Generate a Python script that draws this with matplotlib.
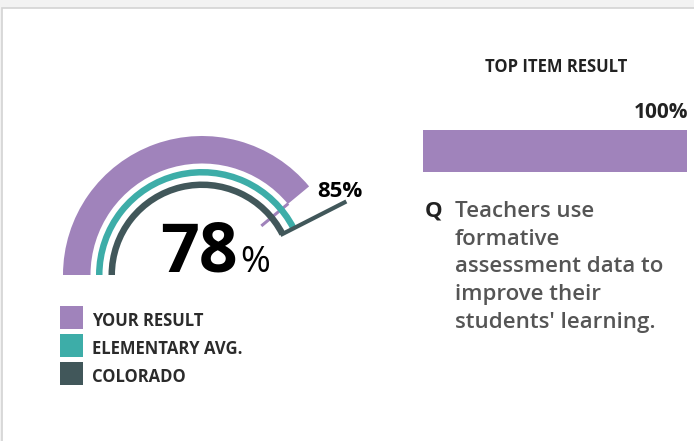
import numpy as np
import matplotlib.pyplot as plt
from matplotlib.patches import Wedge, Rectangle

W, H = 694, 441

# data
series = ["YOUR RESULT", "ELEMENTARY AVG.", "COLORADO"]
values = [78, 85, 85]
colors = ["#a083bb", "#3dada8", "#41575a"]
marker_label = "85%"
top_item_title = "TOP ITEM RESULT"
top_item_value = 100
question = ["Teachers use", "formative", "assessment data to",
            "improve their", "students' learning."]

plt.rcParams['font.family'] = ['Open Sans', 'DejaVu Sans']


def Y(y):
    # image rows -> axis coords (y up)
    return H - y


def ang(v):
    return 180 - 1.8 * v


fig = plt.figure(figsize=(W / 100, H / 100), dpi=100, facecolor="#f2f2f2")
ax = fig.add_axes([0, 0, 1, 1])
ax.set_xlim(0, W)
ax.set_ylim(0, H)
ax.axis("off")

# white panel with grey border
ax.add_patch(Rectangle((2.5, -5), W + 10, Y(7.5) + 5, facecolor="white",
                       edgecolor="#d3d3d3", lw=1.2))

# gauge
cx, cy = 202, Y(275)
rings = [(139, 27.5), (106, 6.5), (93.5, 6.5)]
ax.add_patch(Wedge((cx, cy), rings[0][0], ang(values[0]), 180,
                   width=rings[0][1], facecolor=colors[0], edgecolor="none"))

# thin purple tick at your result
t = np.radians(ang(values[0]))
ax.plot([cx + 77 * np.cos(t), cx + 112 * np.cos(t)],
        [cy + 77 * np.sin(t), cy + 112 * np.sin(t)],
        color=colors[0], lw=2.2, solid_capstyle="butt", zorder=1)
for (r, w), v, c in list(zip(rings, values, colors))[1:]:
    ax.add_patch(Wedge((cx, cy), r, ang(v), 180, width=w, facecolor=c,
                       edgecolor="none", zorder=2))

# colorado marker line
t = np.radians(ang(values[2]))
ax.plot([cx + 88 * np.cos(t), cx + 162 * np.cos(t)],
        [cy + 88 * np.sin(t), cy + 162 * np.sin(t)],
        color=colors[2], lw=3, solid_capstyle="butt", zorder=3)
ax.text(317, Y(197), marker_label, fontsize=16, fontweight="bold",
        color="black", ha="left", va="baseline")

# center value
ax.text(238, Y(272), str(values[0]), fontsize=49, fontweight="bold",
        color="black", ha="right", va="baseline", zorder=4)
ax.text(240, Y(272), "%", fontsize=26, color="black", ha="left",
        va="baseline", zorder=4)

# legend
for i, (name, c) in enumerate(zip(series, colors)):
    top = 306 + 28 * i
    ax.add_patch(Rectangle((60, Y(top + 23)), 23, 23, facecolor=c,
                           edgecolor="none"))
    ax.text(92, Y(326 + 28 * i), name, fontsize=12, fontweight="bold",
            color="#2b2b2b", ha="left", va="baseline")

# top item bar
ax.text(556, Y(72), top_item_title, fontsize=12, fontweight="bold",
        color="#222222", ha="center", va="baseline")
ax.barh(Y(151), 264 * top_item_value / 100, height=42, left=423,
        color=colors[0])
ax.text(688, Y(118), f"{top_item_value}%", fontsize=15, fontweight="bold",
        color="#222222", ha="right", va="baseline")

# question
ax.text(425, Y(217), "Q", fontsize=16, fontweight="bold", color="#222222",
        ha="left", va="baseline")
for i, line in enumerate(question):
    ax.text(455, Y(217 + 27.7 * i), line, fontsize=16, fontweight="semibold",
            color="#555555", ha="left", va="baseline")

fig.savefig("out.png", dpi=100, facecolor=fig.get_facecolor())
